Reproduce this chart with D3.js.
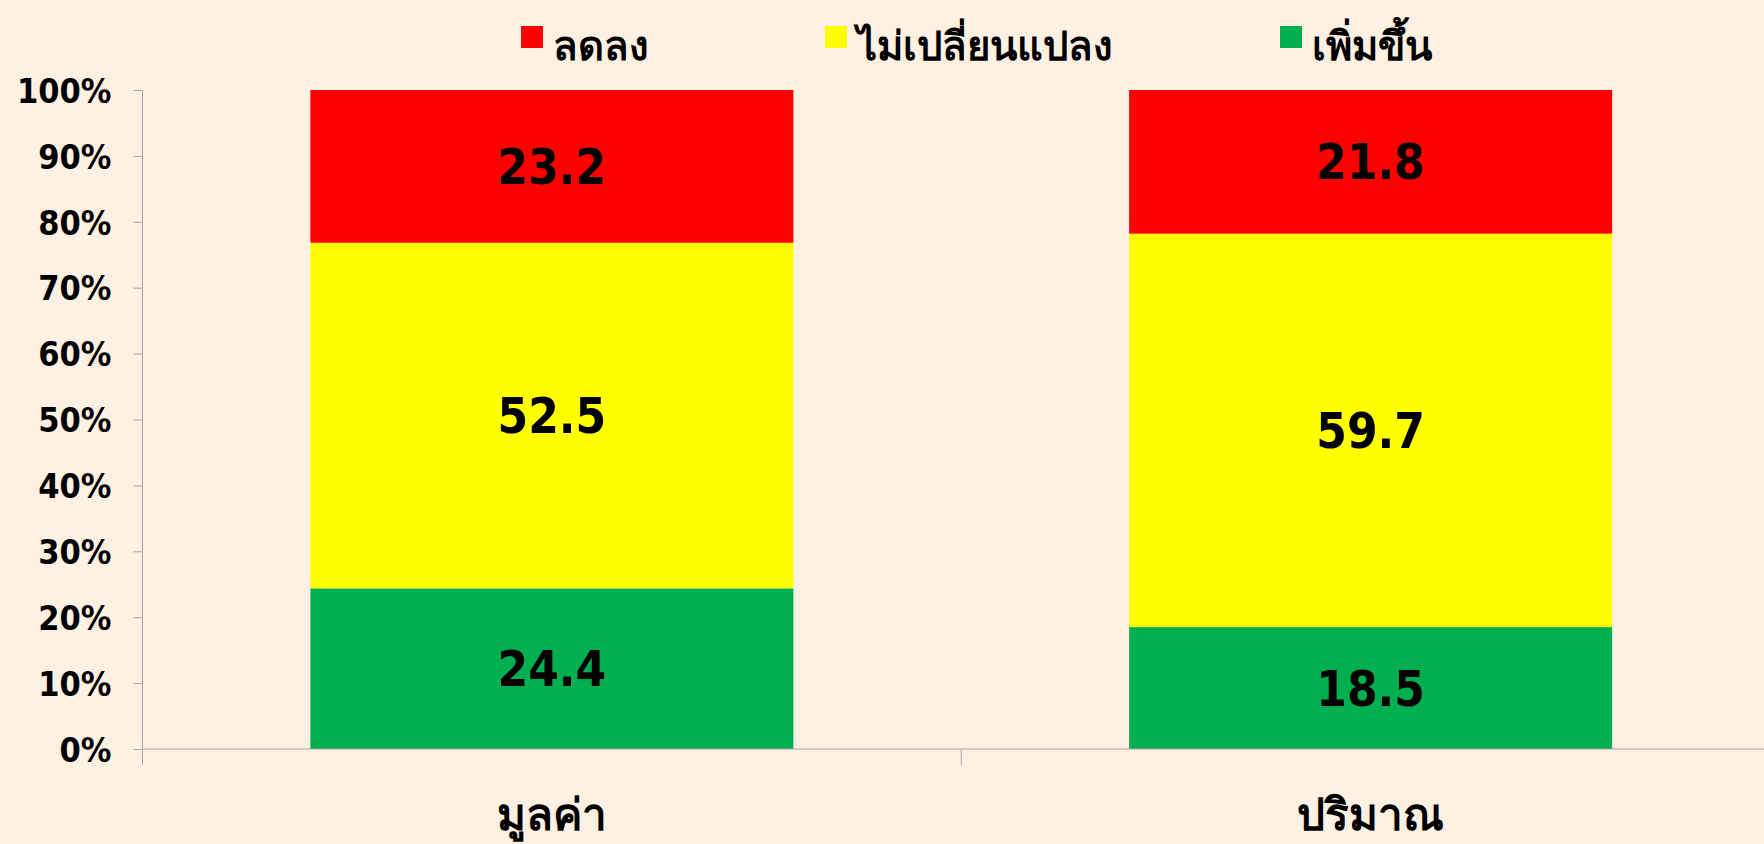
<!DOCTYPE html>
<html lang="th">
<head>
    <meta charset="utf-8">
    <title>100% stacked bar</title>
    <style>
        html, body { margin: 0; padding: 0; background: #FEF1E1; }
        svg { display: block; }
        text { font-family: "DejaVu Sans Condensed", "DejaVu Sans", sans-serif; font-weight: bold; fill: #000; }
    </style>
</head>
<body>
    <script src="https://cdnjs.cloudflare.com/ajax/libs/d3/7.8.5/d3.min.js"></script>
    <script>
    // data
    var categories = ["มูลค่า", "ปริมาณ"];
    var seriesNames = ["เพิ่มขึ้น", "ไม่เปลี่ยนแปลง", "ลดลง"];
    var increased = [24.4, 18.5];
    var unchanged = [52.5, 59.7];
    var decreased = [23.2, 21.8];
    var legendOrder = ["ลดลง", "ไม่เปลี่ยนแปลง", "เพิ่มขึ้น"];
    var yTicks = [0, 0.1, 0.2, 0.3, 0.4, 0.5, 0.6, 0.7, 0.8, 0.9, 1];

    var colors = { "เพิ่มขึ้น": "#00B050", "ไม่เปลี่ยนแปลง": "#FFFF00", "ลดลง": "#FF0000" };

    var w = 1764, h = 844;
    var margin = { left: 142.5, top: 90, bottom: 95 };
    var plotRight = 1780;

    var rows = categories.map(function(c, i) {
        var r = { cat: c };
        r[seriesNames[0]] = increased[i];
        r[seriesNames[1]] = unchanged[i];
        r[seriesNames[2]] = decreased[i];
        return r;
    });

    var stacked = d3.stack().keys(seriesNames).offset(d3.stackOffsetExpand)(rows);

    var svg = d3.select("body").append("svg")
        .attr("width", w).attr("height", h);

    var x = d3.scaleBand().domain(categories)
        .range([margin.left, plotRight])
        .paddingInner(0.41).paddingOuter(0.205);

    var y = d3.scaleLinear().domain([0, 1]).range([h - margin.bottom, margin.top]);

    // bars
    var layers = svg.append("g").selectAll("g")
        .data(stacked).enter().append("g")
        .attr("fill", function(d) { return colors[d.key]; });

    layers.selectAll("rect")
        .data(function(d) { return d; })
        .enter().append("rect")
        .attr("x", function(d) { return x(d.data.cat); })
        .attr("width", x.bandwidth())
        .attr("y", function(d) { return y(d[1]); })
        .attr("height", function(d) { return y(d[0]) - y(d[1]); });

    // value labels
    stacked.forEach(function(layer) {
        svg.append("g").selectAll("text")
            .data(layer).enter().append("text")
            .attr("x", function(d) { return x(d.data.cat) + x.bandwidth() / 2; })
            .attr("y", function(d) { return (y(d[0]) + y(d[1])) / 2; })
            .attr("dy", "0.36em")
            .attr("text-anchor", "middle")
            .style("font-size", "49px")
            .text(function(d) { return d.data[layer.key].toFixed(1); });
    });

    // y axis
    var yAxis = svg.append("g")
        .attr("transform", "translate(" + margin.left + ",0)")
        .call(d3.axisLeft(y).tickValues(yTicks).tickFormat(d3.format(".0%")).tickSize(9).tickPadding(22));
    yAxis.select(".domain").attr("stroke", "#A6A6A6").attr("d", "M0," + y(1) + "V" + (y(0) + 16));
    yAxis.selectAll(".tick line").attr("stroke", "#A6A6A6");
    yAxis.selectAll(".tick text").style("font-size", "34px").attr("dy", "0.36em");

    // x axis
    var xAxis = svg.append("g")
        .attr("transform", "translate(0," + y(0) + ")");
    xAxis.append("line")
        .attr("x1", margin.left).attr("x2", plotRight)
        .attr("stroke", "#A6A6A6");
    var step = x.step();
    xAxis.selectAll(".sep")
        .data(categories.slice(1)).enter().append("line")
        .attr("x1", function(d) { return x(d) - step * x.paddingInner() / 2; })
        .attr("x2", function(d) { return x(d) - step * x.paddingInner() / 2; })
        .attr("y1", 0).attr("y2", 16)
        .attr("stroke", "#A6A6A6");
    xAxis.selectAll(".cat")
        .data(categories).enter().append("text")
        .attr("x", function(d) { return x(d) + x.bandwidth() / 2; })
        .attr("y", 81)
        .attr("text-anchor", "middle")
        .style("font-size", "44px")
        .text(function(d) { return d; });

    // legend
    var legendX = [521, 825, 1280];
    var legend = svg.append("g").selectAll("g")
        .data(legendOrder).enter().append("g")
        .attr("transform", function(d, i) { return "translate(" + legendX[i] + ",26)"; });
    legend.append("rect")
        .attr("width", 22).attr("height", 22)
        .attr("fill", function(d) { return colors[d]; });
    legend.append("text")
        .attr("x", 32).attr("y", 34)
        .style("font-size", "40px")
        .text(function(d) { return d; });
    </script>
</body>
</html>
